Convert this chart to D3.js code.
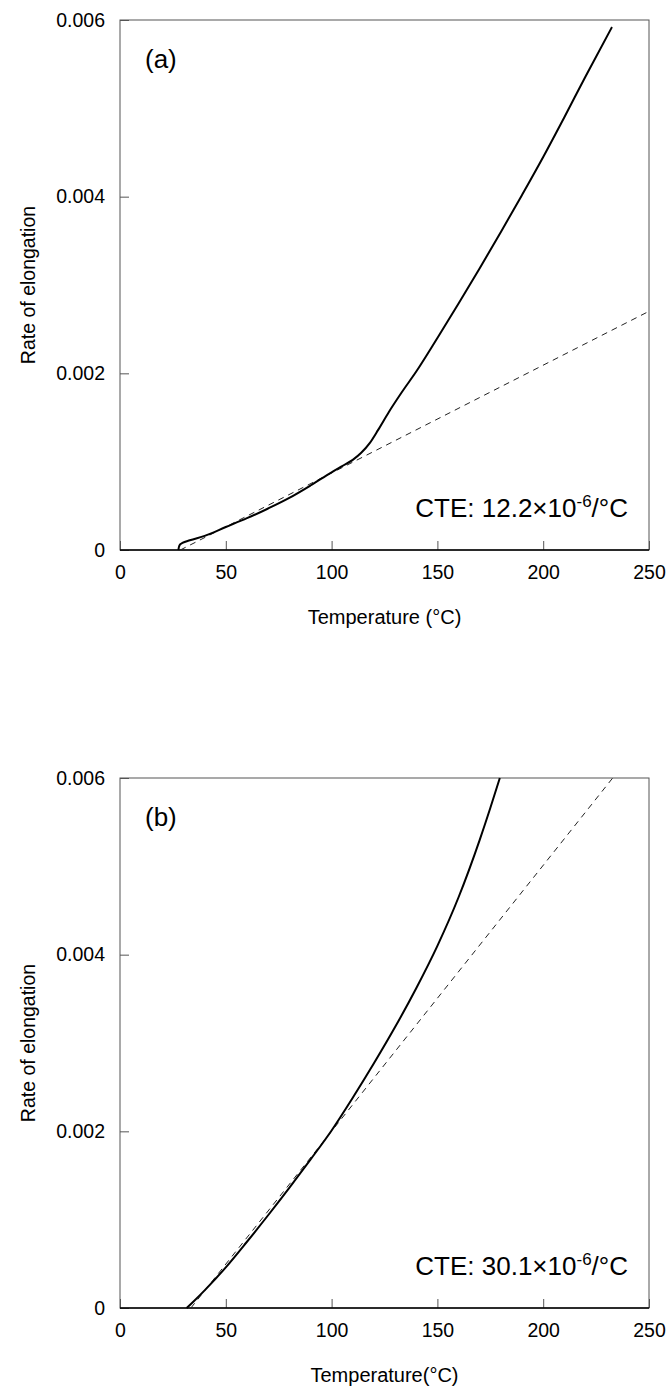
<!DOCTYPE html>
<html>
<head>
<meta charset="utf-8">
<script src="https://cdn.jsdelivr.net/npm/d3@7"></script>
<style>
  html, body { margin: 0; padding: 0; background: #fff; }
  svg text { font-family: "Liberation Sans", Arial, sans-serif; fill: #000; }
</style>
</head>
<body>
<svg id="chart" width="669" height="1390"></svg>
<script>
// Thermal expansion curves (dilatometry), two specimens

// Panel (a): measured elongation vs temperature
const tempA  = [27.6, 27.8, 28.3, 29.5, 33, 40, 50, 60, 70, 80, 90, 100, 105, 110, 114, 118, 122, 127, 133, 140, 150, 160, 170, 180, 190, 200, 210, 220, 232.5];
const elongA = [0, 0.00003, 0.00006, 0.00008, 0.00011, 0.00016, 0.00026, 0.00036, 0.00047, 0.00059, 0.00073, 0.00088, 0.00095, 0.00102, 0.0011, 0.00121, 0.00136, 0.00156, 0.00178, 0.00202, 0.0024, 0.00279, 0.00319, 0.0036, 0.00402, 0.00445, 0.0049, 0.00536, 0.00592];

// Panel (b): measured elongation vs temperature
const tempB  = [31.5, 35, 40, 50, 60, 70, 80, 90, 100, 110, 120, 130, 140, 150, 160, 170, 175, 179.5];
const elongB = [0, 0.00008, 0.0002, 0.00046, 0.00075, 0.00105, 0.00136, 0.00168, 0.00201, 0.00238, 0.00277, 0.00318, 0.00362, 0.0041, 0.00465, 0.0053, 0.00566, 0.006];

// Linear fits: coefficient of thermal expansion (per °C) and the temperature where the fit crosses zero
const cteValues  = [12.2, 30.1];          // ×10^-6 /°C
const fitOnset   = [28.5, 33.5];          // °C
const panelNames = ["(a)", "(b)"];
const xTitles    = ["Temperature (°C)", "Temperature(°C)"];

// Axis ticks
const xTicks = [0, 50, 100, 150, 200, 250];
const yTicks = [0, 0.002, 0.004, 0.006];
const yTickLabels = ["0", "0.002", "0.004", "0.006"];

const svg = d3.select("#chart");
const left = 120, plotW = 529, plotH = 530;
const panelTops = [20, 778];

const x = d3.scaleLinear().domain([0, 250]).range([0, plotW]);
const y = d3.scaleLinear().domain([0, 0.006]).range([plotH, 0]);

const series = [
  tempA.map((t, i) => [t, elongA[i]]),
  tempB.map((t, i) => [t, elongB[i]])
];

panelTops.forEach((top, p) => {
  const g = svg.append("g").attr("transform", `translate(${left},${top})`);

  const clipId = "clip" + p;
  g.append("clipPath").attr("id", clipId)
    .append("rect").attr("width", plotW).attr("height", plotH);

  // x axis with inward ticks
  const xAxis = g.append("g").attr("transform", `translate(0,${plotH})`)
    .call(d3.axisBottom(x).tickValues(xTicks).tickFormat(d3.format("d"))
      .tickSizeInner(-9).tickSizeOuter(0).tickPadding(15));
  xAxis.select(".domain").remove();
  xAxis.selectAll(".tick line").attr("stroke", "#555");
  xAxis.selectAll(".tick text").attr("font-size", 19.5).attr("font-family", "Liberation Sans, Arial, sans-serif");

  // y axis with inward ticks
  const yAxis = g.append("g")
    .call(d3.axisLeft(y).tickValues(yTicks).tickFormat((d, i) => yTickLabels[i])
      .tickSizeInner(-9).tickSizeOuter(0).tickPadding(15));
  yAxis.select(".domain").remove();
  yAxis.selectAll(".tick line").attr("stroke", "#555");
  yAxis.selectAll(".tick text").attr("font-size", 19.5).attr("font-family", "Liberation Sans, Arial, sans-serif");

  // frame
  g.append("rect").attr("width", plotW).attr("height", plotH)
    .attr("fill", "none").attr("stroke", "#555").attr("stroke-width", 1);
  g.append("line").attr("x1", 0).attr("x2", plotW).attr("y1", plotH).attr("y2", plotH)
    .attr("stroke", "#000").attr("stroke-width", 1.6);

  // linear fit (dashed)
  const slope = cteValues[p] * 1e-6;
  const t0 = fitOnset[p];
  const tEnd = Math.min(250, t0 + 0.006 / slope);
  const fit = [[t0, 0], [tEnd, slope * (tEnd - t0)]];
  g.append("path").datum(fit)
    .attr("clip-path", `url(#${clipId})`)
    .attr("d", d3.line().x(d => x(d[0])).y(d => y(d[1])))
    .attr("fill", "none").attr("stroke", "#222").attr("stroke-width", 1)
    .attr("stroke-dasharray", "6,5");

  // measured curve
  g.append("path").datum(series[p])
    .attr("d", d3.line().x(d => x(d[0])).y(d => y(d[1])).curve(d3.curveMonotoneX))
    .attr("fill", "none").attr("stroke", "#000").attr("stroke-width", 2);

  // panel label
  g.append("text").attr("x", 25).attr("y", 48)
    .attr("font-size", 26).text(panelNames[p]);

  // CTE annotation
  const cte = g.append("text").attr("x", 508).attr("y", plotH - 33)
    .attr("text-anchor", "end").attr("font-size", 26);
  cte.append("tspan").text(`CTE: ${cteValues[p].toFixed(1)}×10`);
  cte.append("tspan").attr("font-size", 17).attr("dy", -10).text("-6");
  cte.append("tspan").attr("dy", 10).text("/°C");

  // axis titles
  g.append("text").attr("x", plotW / 2).attr("y", plotH + 74)
    .attr("text-anchor", "middle").attr("font-size", 20).text(xTitles[p]);
  g.append("text")
    .attr("transform", `translate(${-85},${plotH / 2}) rotate(-90)`)
    .attr("text-anchor", "middle").attr("font-size", 19.5).text("Rate of elongation");
});
</script>
</body>
</html>
